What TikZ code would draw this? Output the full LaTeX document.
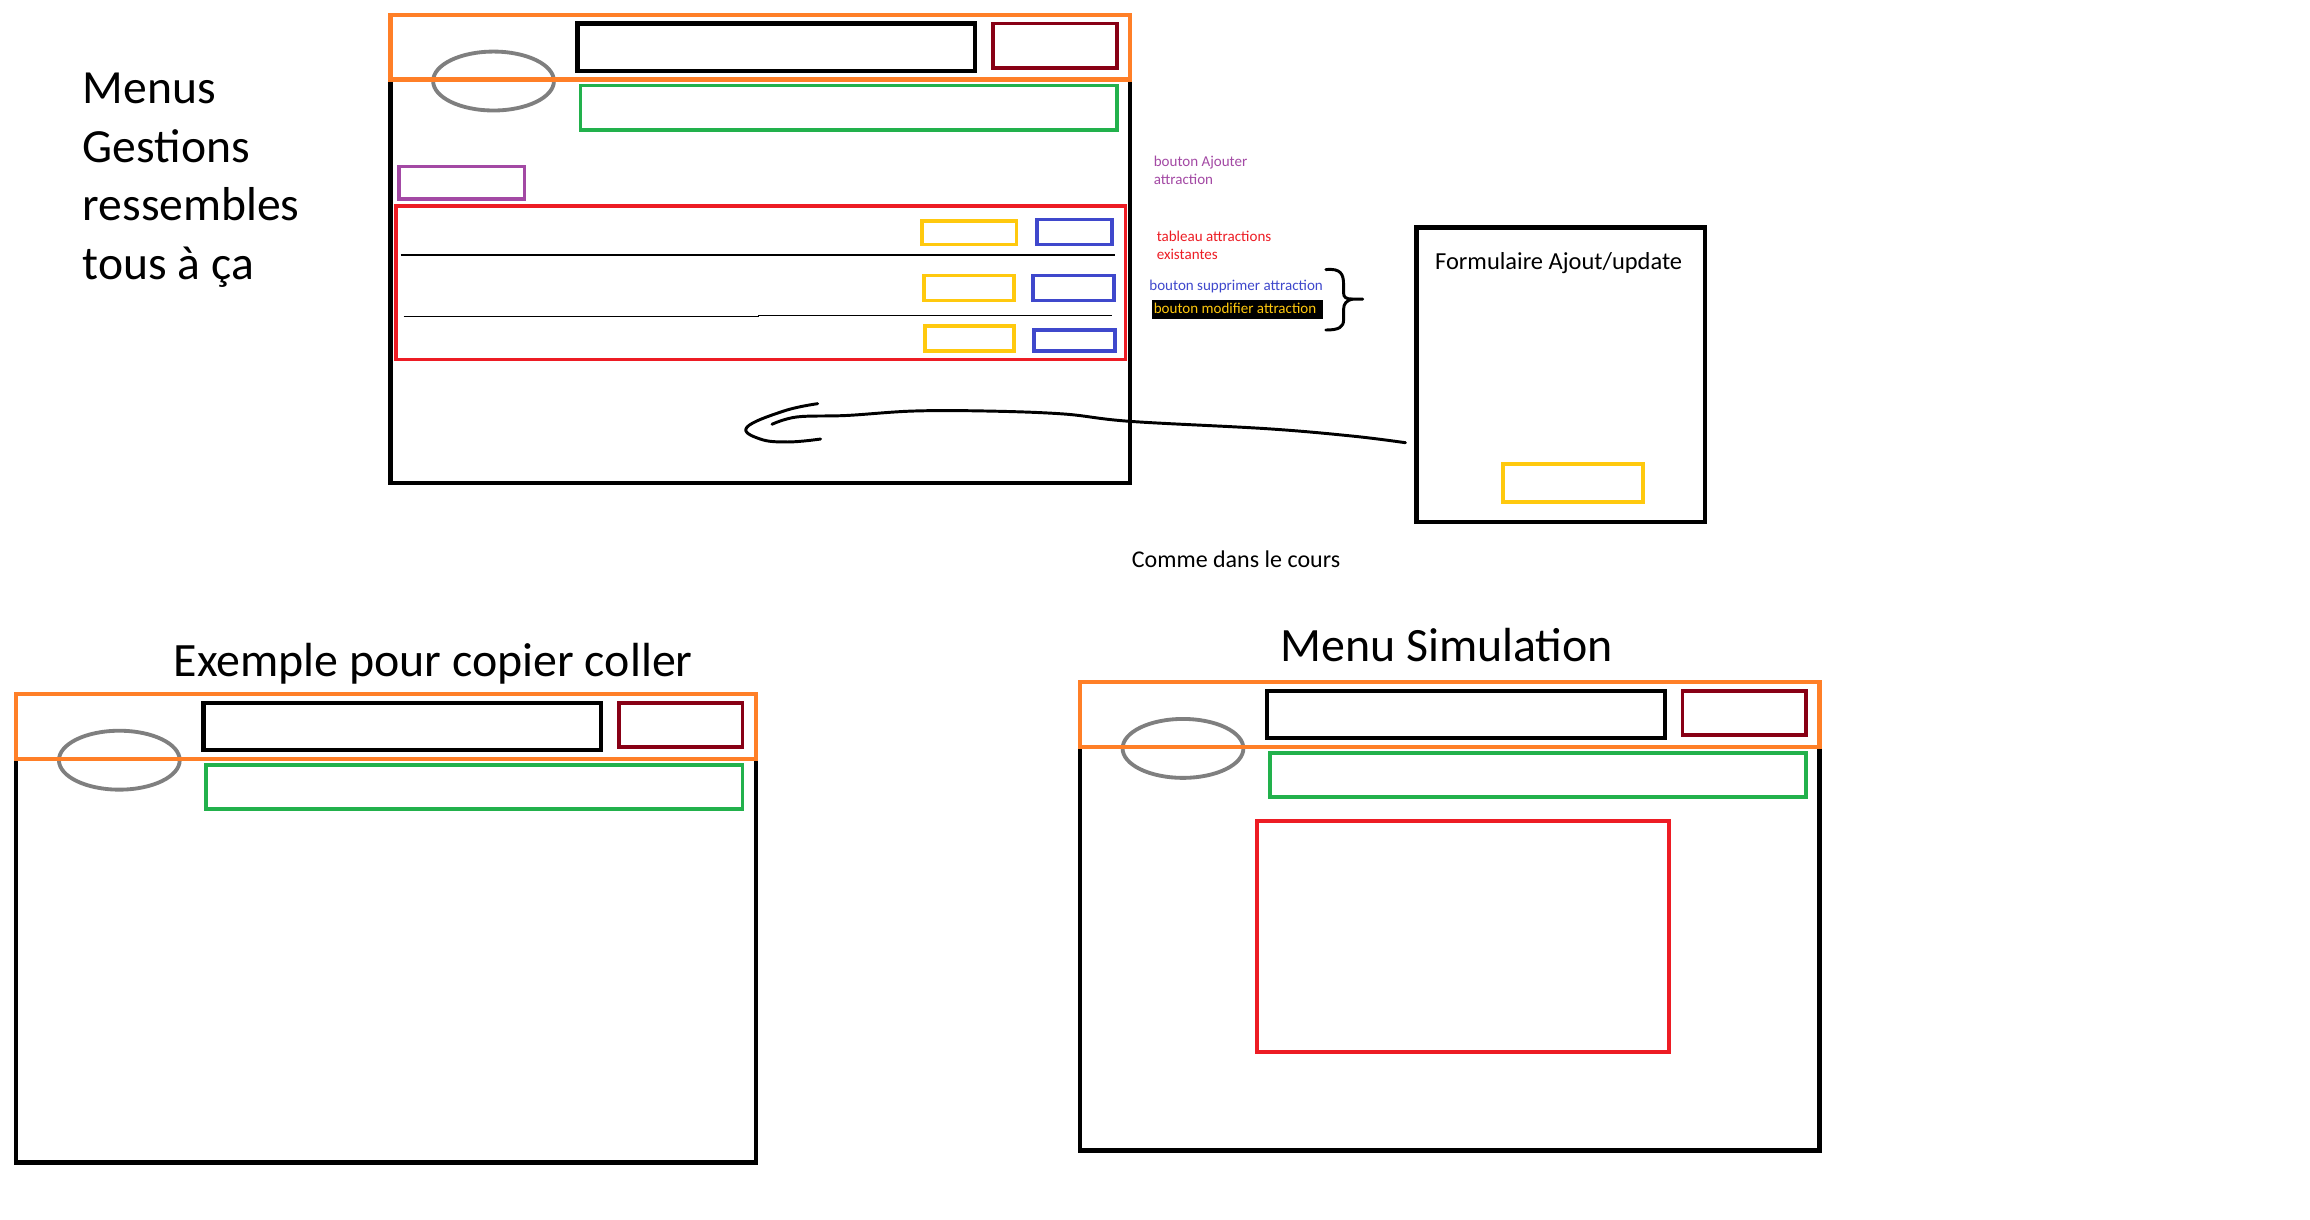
\documentclass[tikz,border=0pt]{standalone}
\usepackage{fontspec}
\setmainfont{Carlito}
\usetikzlibrary{calc}
\definecolor{porange}{HTML}{FF7F27}
\definecolor{pdarkred}{HTML}{880015}
\definecolor{pgreen}{HTML}{22B14C}
\definecolor{pgray}{HTML}{7F7F7F}
\definecolor{ppurple}{HTML}{A349A4}
\definecolor{pred}{HTML}{ED1C24}
\definecolor{pyellow}{HTML}{FFC90E}
\definecolor{pblue}{HTML}{3F48CC}
\tikzset{
  winline/.style={draw=black,line width=3},
  boxline/.style={line width=2.6},
  menuwin/.pic={
    \draw[winline] (0,0) rectangle (502,318);
    \draw[boxline,draw=pgray] (70,45) ellipse [x radius=41,y radius=20];
    \draw[line width=3,draw=porange] (0,0) rectangle (502,44);
    \draw[line width=3,draw=black] (127,6) rectangle (397,38);
    \draw[boxline,draw=pdarkred] (409,6) rectangle (493,36);
    \draw[boxline,draw=pgreen] (129,48) rectangle (493,78);
  },
  smalltxt/.style={font=\fontsize{10.2}{12}\selectfont,anchor=base west,inner sep=0},
  bigtxt/.style={font=\fontsize{32.3}{40}\selectfont,anchor=base west,inner sep=0},
  titletxt/.style={font=\fontsize{32.5}{36}\selectfont,anchor=base,inner sep=0},
}
\begin{document}
\begin{tikzpicture}[x=1pt,y=-1pt]
\useasboundingbox (0,0) rectangle (1568,828);
\fill[white] (0,0) rectangle (1568,828);

% left title
\node[bigtxt] (intro1) at (56,70) {Menus};
\node[bigtxt] (intro2) at (56,110) {Gestions};
\node[bigtxt] (intro3) at (56,150) {ressembles};
\node[bigtxt] (intro4) at (56,190) {tous à ça};

% top window
\pic (wtop) at (265,10) {menuwin};
\draw[boxline,draw=ppurple] (271,113) rectangle (356,135);
\draw[boxline,draw=pred] (269,140) rectangle (764,244);
\draw[line width=1] (272,173) -- (757,173);
\draw[line width=1] (274,215) -- (515,215) -- (515,214) -- (755,214);
\draw[boxline,draw=pyellow] (626,150) rectangle (690,166);
\draw[boxline,draw=pyellow] (627,187) rectangle (688,204);
\draw[boxline,draw=pyellow] (628,221) rectangle (688,238);
\draw[boxline,draw=pblue] (704,149) rectangle (755,166);
\draw[boxline,draw=pblue] (701,187) rectangle (756,204);
\draw[boxline,draw=pblue] (702,224) rectangle (757,238);

% annotations
\node[smalltxt,text=ppurple] (tajout1) at (783,113) {bouton Ajouter};
\node[smalltxt,text=ppurple] (tajout2) at (783,125) {attraction};
\node[smalltxt,text=pred] (ttab1) at (785,164) {tableau attractions};
\node[smalltxt,text=pred] (ttab2) at (785,176) {existantes};
\node[smalltxt,text=pblue] (tsupp) at (780,197) {bouton supprimer attraction};
\fill[black] (782,203.5) rectangle (898,216.5);
\node[smalltxt,text=pyellow] (tmodif) at (783,213) {bouton modifier attraction};

% brace
\draw[line width=2,line cap=round,line join=round]
  (900,183) .. controls (910,182) and (912,186) .. (912,193)
  -- (912,199) .. controls (912,202) and (914,203) .. (918,203)
  -- (925,203);
\draw[line width=2,line cap=round,line join=round]
  (918,203) .. controls (914,204) and (912,206) .. (912,210)
  -- (912,217) .. controls (912,222) and (909,224) .. (900,224);

% formulaire
\node[draw,line width=3,minimum width=196pt,minimum height=200pt,anchor=north west,inner sep=0] (form) at (960,153) {};
\node[font=\fontsize{16.6}{19}\selectfont,anchor=base,inner sep=0] (tform) at (1058,183) {Formulaire Ajout/update};
\draw[boxline,draw=pyellow] (1020,315) rectangle (1115,341);

% hand-drawn arrow
\coordinate (astart) at ($(form.west)+(-6,46)$);
\draw[line width=2,line cap=round,line join=round] plot[smooth,tension=0.6] coordinates
  {(astart) (918,296) (860,291) (767,286) (722,281) (670,279) (620,279) (575,282) (541,283) (524,288)};
\draw[line width=2,line cap=round,line join=round] plot[smooth,tension=0.7] coordinates
  {(555,274) (532,279) (507,290) (516,298) (535,300) (557,298)};

\node[font=\fontsize{16.3}{19}\selectfont,anchor=base,inner sep=0] (tcours) at (839,385) {Comme dans le cours};

% bottom left
\node[titletxt] (texemple) at (294,459) {Exemple pour copier coller};
\pic (wex) at (11,471) {menuwin};

% bottom right
\node[titletxt] (tsim) at (982,449) {Menu Simulation};
\pic (wsim) at (733,463) {menuwin};
\draw[boxline,draw=pred] (853,557) rectangle (1133,714);
\end{tikzpicture}
\end{document}
